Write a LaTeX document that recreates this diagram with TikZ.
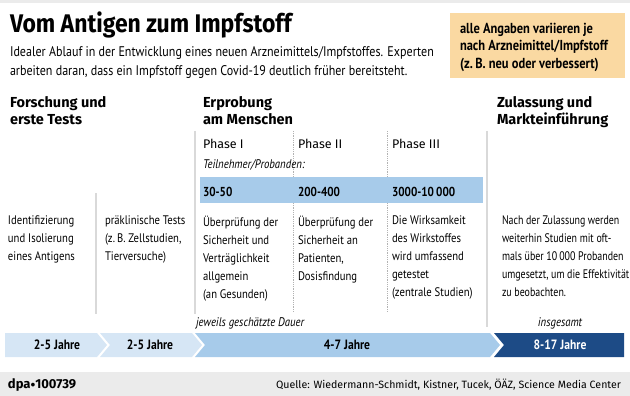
\documentclass[tikz,border=0pt]{standalone}
\usepackage{fontspec}
\setmainfont{PT Sans}[FakeStretch=0.86]
\newfontfamily\narrowfont{PT Sans}[FakeStretch=0.8]
\newfontfamily\headfont{Fira Sans}
\newfontfamily\titlefont{Fira Sans}[FakeStretch=0.9]
\usetikzlibrary{positioning}

\definecolor{paleblue}{HTML}{D6E6F5}
\definecolor{midblue}{HTML}{A7CBEA}
\definecolor{darkblue}{HTML}{1D4B86}
\definecolor{noteorange}{HTML}{FAD9A2}
\definecolor{bandgray}{HTML}{EBEBEB}
\definecolor{rulegray}{HTML}{D9D9D9}

\begin{document}
\begin{tikzpicture}[
    x=1pt, y=-1pt,
    every node/.style = {inner sep=0pt, outer sep=0pt},
    heading/.style    = {anchor=north west, align=left,
                         font=\headfont\bfseries\fontsize{14.5}{17}\selectfont},
    desc/.style       = {anchor=north west, align=left,
                         font=\fontsize{12.4}{18}\selectfont},
    phase/.style      = {anchor=base west, font=\headfont\fontsize{12.5}{16}\selectfont},
    count/.style      = {anchor=base west, font=\bfseries\fontsize{13}{16}\selectfont},
    dur/.style        = {font=\bfseries\fontsize{13.5}{16}\selectfont},
    hint/.style       = {anchor=base west, font=\itshape\fontsize{12.5}{15}\selectfont},
    divider/.style    = {rulegray, line width=1.4pt},
    subdivider/.style = {gray!60, densely dotted, line width=0.8pt}
]
\useasboundingbox (0,0) rectangle (630,396);

% --- Frame bands -------------------------------------------------------------
\fill[bandgray] (0,0) rectangle (630,3);
\fill[bandgray] (0,372) rectangle (630,396);

% --- Title and note ----------------------------------------------------------
\node[anchor=base west, font=\titlefont\bfseries\fontsize{25.5}{28}\selectfont]
  (title) at (10,33) {Vom Antigen zum Impfstoff};
\node[desc, font=\fontsize{14}{19}\selectfont] (subtitle) at (10,47)
  {Idealer Ablauf in der Entwicklung eines neuen Arzneimittels/Impfstoffes. Experten\\
   arbeiten daran, dass ein Impfstoff gegen Covid-19 deutlich früher bereitsteht.};

\fill[noteorange] (450,13) rectangle (625,78);
\node[desc, font=\bfseries\fontsize{14.5}{17.5}\selectfont] (note) at (460,23)
  {alle Angaben variieren je\\
   nach Arzneimittel/Impfstoff\\
   (z.\,B. neu oder verbessert)};

% --- Column headings ---------------------------------------------------------
\node[heading] (headResearch) at (10,96)  {Forschung und\\ erste Tests};
\node[heading] (headTrial)    at (203,96) {Erprobung\\ am Menschen};
\node[heading] (headApproval) at (497,96) {Zulassung und\\ Markteinführung};

% --- Dividers ----------------------------------------------------------------
\draw[divider]    (96,193)  -- (96,314);
\draw[divider]    (195,131) -- (195,314);
\draw[divider]    (487,131) -- (487,327);
\draw[subdivider] (293,131) -- (293,312);
\draw[subdivider] (387,131) -- (387,312);

% --- Phases ------------------------------------------------------------------
\node[phase] (phaseI)   at (203,148) {Phase I};
\node[phase] (phaseII)  at (298,148) {Phase II};
\node[phase] (phaseIII) at (392,148) {Phase III};
\node[hint]  (partLabel) at (203,168) {Teilnehmer/Probanden:};

\fill[midblue] (200,177) rectangle (483,203);
\node[count] (countI)   at (203,196) {30-50};
\node[count] (countII)  at (298,196) {200-400};
\node[count] (countIII) at (392,196) {3000-10\,000};

% --- Descriptions ------------------------------------------------------------
\node[desc] (descId)  at (8,216)   {Identifizierung\\ und Isolierung\\ eines Antigens};
\node[desc] (descPre) at (105,216) {präklinische Tests\\ (z.\,B. Zellstudien,\\ Tierversuche)};
\node[desc] (descI)   at (203,216)
  {Überprüfung der\\ Sicherheit und\\ Verträglichkeit\\ allgemein\\ (an Gesunden)};
\node[desc] (descII)  at (298,216)
  {Überprüfung der\\ Sicherheit an\\ Patienten,\\ Dosisfindung};
\node[desc] (descIII) at (392,216)
  {Die Wirksamkeit\\ des Wirkstoffes\\ wird umfassend\\ getestet\\ (zentrale Studien)};
\node[desc, font=\narrowfont\fontsize{12.4}{18}\selectfont] (descApp) at (502,216)
  {Nach der Zulassung werden\\ weiterhin Studien mit oft-\\ mals über 10\,000 Probanden\\
   umgesetzt, um die Effektivität\\ zu beobachten.};

% --- Duration bar ------------------------------------------------------------
\node[hint] (durEst) at (196,326) {jeweils geschätzte Dauer};
\node[hint, anchor=base] (durTotal) at (560,326) {insgesamt};

\fill[paleblue] (5,333) -- (97,333) -- (107,345) -- (97,357) -- (5,357) -- cycle;
\fill[paleblue] (100,333) -- (192,333) -- (202,345) -- (192,357) -- (100,357)
  -- (110,345) -- cycle;
\fill[midblue]  (195,333) -- (490,333) -- (500,345) -- (490,357) -- (195,357)
  -- (205,345) -- cycle;
\fill[darkblue] (494,333) -- (624,333) -- (624,357) -- (494,357) -- (504,345) -- cycle;

\node[dur] (dur1) at (57,345)  {2-5 Jahre};
\node[dur] (dur2) at (150,345) {2-5 Jahre};
\node[dur] (dur3) at (347,345) {4-7 Jahre};
\node[dur, text=white] (dur4) at (560,345) {8-17 Jahre};

% --- Footer ------------------------------------------------------------------
\node[anchor=base west, font=\headfont\bfseries\fontsize{13}{15}\selectfont]
  (dpa) at (8,388) {dpa\raisebox{0.5pt}{\scalebox{0.8}{$\bullet$}}100739};
\node[anchor=base east, font=\headfont\fontsize{10.6}{14}\selectfont]
  (source) at (621,388) {Quelle: Wiedermann-Schmidt, Kistner, Tucek, ÖÄZ, Science Media Center};

\end{tikzpicture}
\end{document}
